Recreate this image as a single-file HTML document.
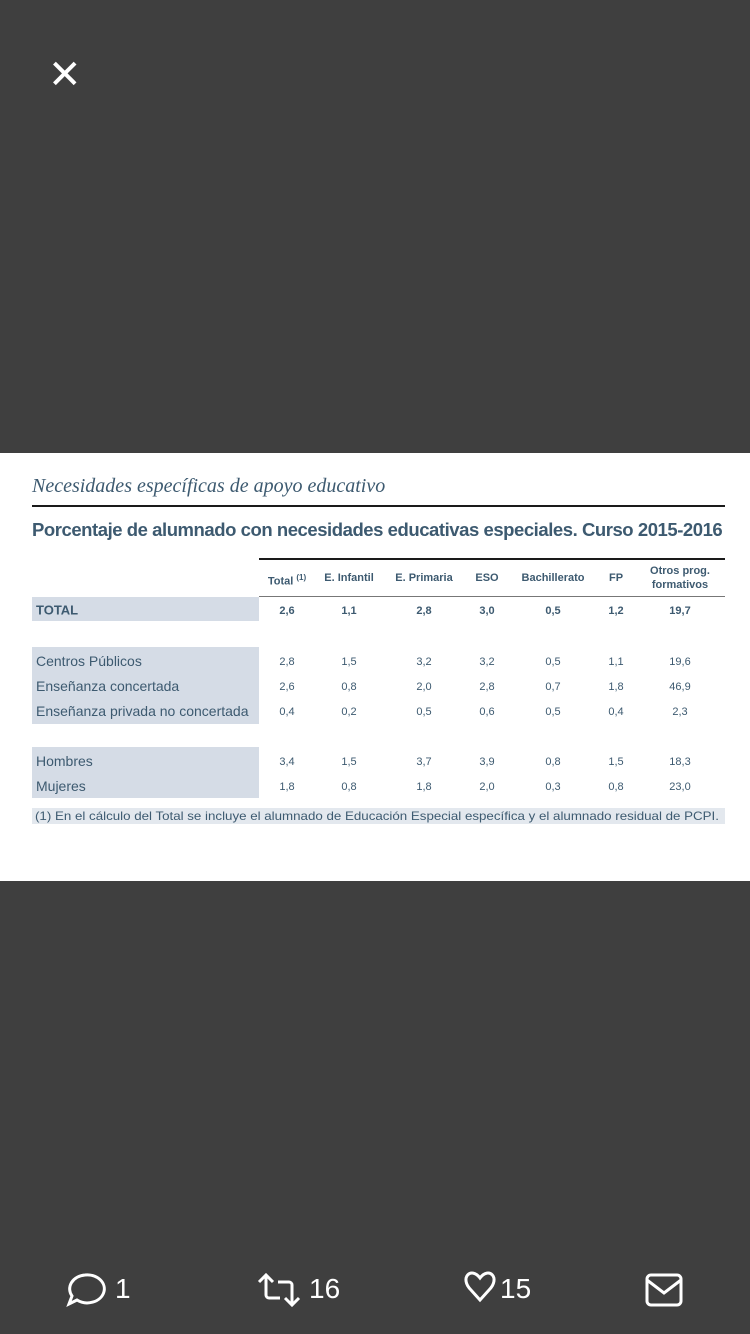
<!DOCTYPE html>
<html><head><meta charset="utf-8"><style>
body{margin:0;width:750px;height:1334px;background:#3f3f3f;position:relative;overflow:hidden;font-family:"Liberation Sans",sans-serif}
.p{position:absolute;left:0;top:453px;width:750px;height:428px;background:#fff}
.a{position:absolute;white-space:nowrap}
.c{position:absolute;transform:translateX(-50%);white-space:nowrap;font-size:11px;color:#3d5a70}
.bg{position:absolute;background:#d5dce6}
.l{position:absolute;background:#1a1a1a}
.lab{position:absolute;left:36px;font-size:14px;color:#3d5a70;transform:translateY(-50%)}
</style></head><body>
<div class="a" style="left:48px;top:50px;color:#fff;font-size:40px;line-height:50px">✕</div>
<div class="p"></div>
<div class="a" style="left:32px;top:475px;font-family:'Liberation Serif',serif;font-style:italic;font-size:20px;color:#3d5a70">Necesidades específicas de apoyo educativo</div>
<div class="l" style="left:32px;top:505px;width:693px;height:2px"></div>
<div class="a" style="left:32px;top:519px;font-size:18.5px;font-weight:bold;color:#3d5a70;letter-spacing:-0.45px">Porcentaje de alumnado con necesidades educativas especiales. Curso 2015-2016</div>
<div class="l" style="left:259px;top:558px;width:466px;height:2px"></div>
<div class="l" style="left:259px;top:596px;width:466px;height:1px;background:#777"></div>
<div class="bg" style="left:32px;top:597px;width:227px;height:24px"></div>
<div class="bg" style="left:32px;top:647px;width:227px;height:77px"></div>
<div class="bg" style="left:32px;top:747px;width:227px;height:51px"></div>
<div class="bg" style="left:32px;top:808px;width:693px;height:16px;background:#e3e8ee"></div>
<div class="lab" style="top:610px;font-weight:bold;font-size:13px">TOTAL</div>
<div class="lab" style="top:661px">Centros Públicos</div>
<div class="lab" style="top:686px">Enseñanza concertada</div>
<div class="lab" style="top:711px">Enseñanza privada no concertada</div>
<div class="lab" style="top:761px">Hombres</div>
<div class="lab" style="top:786px">Mujeres</div>
<div class="a" style="left:35px;top:809px;font-size:12px;color:#3d5a70;transform-origin:0 0;transform:scaleX(1.11)">(1) En el cálculo del Total se incluye el alumnado de Educación Especial específica y el alumnado residual de PCPI.</div>
<div id="t"></div>
<script>
var xs=[287,349,424,487,553,616,680];
var h=["Total <sup style='font-size:8px'>(1)</sup>","E. Infantil","E. Primaria","ESO","Bachillerato","FP","Otros prog.<br>formativos"];
var rows=[[610,["2,6","1,1","2,8","3,0","0,5","1,2","19,7"],1],[661,["2,8","1,5","3,2","3,2","0,5","1,1","19,6"]],[686,["2,6","0,8","2,0","2,8","0,7","1,8","46,9"]],[711,["0,4","0,2","0,5","0,6","0,5","0,4","2,3"]],[761,["3,4","1,5","3,7","3,9","0,8","1,5","18,3"]],[786,["1,8","0,8","1,8","2,0","0,3","0,8","23,0"]]];
var s="";
h.forEach(function(t,i){s+="<div class='c' style='left:"+xs[i]+"px;top:"+(i==6?564:571)+"px;font-weight:bold;text-align:center;line-height:14px'>"+t+"</div>";});
rows.forEach(function(r){r[1].forEach(function(v,i){s+="<div class='c' style='left:"+xs[i]+"px;top:"+(r[0]-5)+"px;"+(r[2]?"font-weight:bold":"")+"'>"+v+"</div>";});});
document.getElementById("t").innerHTML=s;
</script>
<svg class="a" style="left:0;top:1260px" width="750" height="60" fill="none" stroke="#fff" stroke-width="3">
<path d="M85 15a17 14 0 1 1 -8 25l-8 4 3-8a17 14 0 0 1 13-21z"/>
<path d="M259 22l7-7 7 7M266 15v20a3 3 0 0 0 3 3h11M299 38l-7 7-7-7M292 45v-20a3 3 0 0 0-3-3h-11"/>
<path d="M471 30c-12-12 0-24 9-12 9-12 21 0 9 12l-9 10z"/>
<rect x="647" y="15" width="34" height="30" rx="4"/><path d="M647 20l17 13 17-13"/>
</svg>
<div class="a" style="left:115px;top:1273px;color:#fff;font-size:28px">1</div>
<div class="a" style="left:309px;top:1273px;color:#fff;font-size:28px">16</div>
<div class="a" style="left:500px;top:1273px;color:#fff;font-size:28px">15</div>
</body></html>
